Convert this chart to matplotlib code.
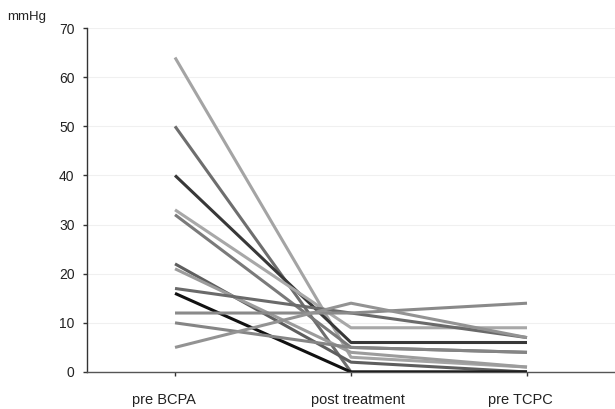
import matplotlib.pyplot as plt
import matplotlib.transforms as mtransforms

plt.rcParams['font.family'] = ['Liberation Sans', 'DejaVu Sans']

stages = ['pre BCPA', 'post treatment', 'pre TCPC']

# one pressure course per patient (mmHg)
pre_bcpa = [64, 50, 40, 33, 32, 22, 21, 17, 16, 12, 10, 5]
post_treat = [3, 0, 6, 9, 5, 2, 4, 12, 0, 12, 5, 14]
pre_tcpc = [1, 0, 6, 9, 4, 0, 1, 7, 0, 14, 4, 7]
greys = ['#a4a4a4', '#6e6e6e', '#383838', '#a8a8a8', '#7a7a7a', '#5e5e5e',
         '#9c9c9c', '#6a6a6a', '#111111', '#8a8a8a', '#858585', '#939393']

fig = plt.figure(figsize=(6.15, 4.09), dpi=100)
ax = fig.add_axes([0.1415, 0.0905, 0.8585, 0.841])

xs = range(len(stages))
for i in range(len(pre_bcpa)):
    ax.plot(xs, [pre_bcpa[i], post_treat[i], pre_tcpc[i]],
            color=greys[i], lw=2.2, solid_capstyle='butt')

ax.set_xlim(-0.5, 2.5)
ax.set_ylim(0, 70)
ax.set_yticks(range(0, 71, 10))
ax.set_xticks(list(xs))
ax.set_xticklabels(stages)
ax.yaxis.grid(True, color='#f0f0f0', lw=0.8)
ax.set_axisbelow(True)
for s in ['top', 'right']:
    ax.spines[s].set_visible(False)
ax.spines['left'].set_color('#333333')
ax.spines['bottom'].set_color('#555555')
ax.spines['left'].set_linewidth(1.0)
ax.spines['bottom'].set_linewidth(1.0)
ax.tick_params(axis='y', length=3, width=1, labelsize=10, pad=6, colors='#333333',
               labelcolor='#222222')
ax.tick_params(axis='x', length=3, width=1, labelsize=10.5, pad=12, colors='#333333',
               labelcolor='#222222')

# labels in the original sit a little off their ticks
shifts = [-11, 7, -7]
for lab, dx in zip(ax.get_xticklabels(), shifts):
    lab.set_transform(lab.get_transform() +
                      mtransforms.ScaledTranslation(dx / 100, 0, fig.dpi_scale_trans))

fig.text(0.012, 0.952, 'mmHg', fontsize=9.5, color='#222222')

fig.savefig('out.png', dpi=100)
